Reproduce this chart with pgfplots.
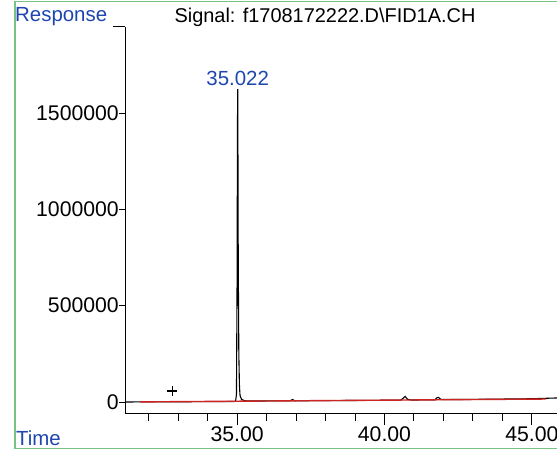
\documentclass[border=0pt]{standalone}
\usepackage{pgfplots}
\pgfplotsset{compat=1.18}
\usepackage{fontspec}
\setmainfont{Liberation Sans}
\definecolor{lblblue}{RGB}{30,70,175}
\definecolor{frgreen}{RGB}{120,195,130}
\definecolor{basered}{RGB}{205,35,35}
\pgfplotsset{
  chromaxis/.style={
    at={(125bp,-413bp)}, anchor=south west,
    scale only axis, width=432bp, height=386bp,
    xmin=31.20, xmax=45.85,
    ymin=-57100, ymax=1946450,
    axis line style={-, black, line width=1bp},
    tick align=outside,
    tick style={black, line width=1bp},
    every tick label/.append style={font=\fontsize{21.3}{24}\selectfont},
    scaled y ticks=false, scaled x ticks=false,
    clip=false,
  }
}
\begin{document}
\begin{tikzpicture}
\fontsize{20.5}{24}\selectfont
\useasboundingbox (0,0) rectangle (557bp,-450bp);
\draw[frgreen, line width=1.5bp] (15bp,-448.5bp) -- (15bp,-1.5bp) -- (557bp,-1.5bp);
\draw[frgreen, line width=1.5bp] (15bp,-448.5bp) -- (557bp,-448.5bp);
\node[lblblue, anchor=west, inner sep=0pt] at (15bp,-17bp) {Response};
\node[anchor=center, inner sep=0pt] at (325bp,-17bp) {\fontsize{20}{24}\selectfont Signal: f1708172222.D\textbackslash FID1A.CH};
\node[lblblue, anchor=west, inner sep=0pt] at (16bp,-438bp) {Time};
% y axis with short ticks
\begin{axis}[chromaxis,
  axis x line=none, axis y line*=left,
  xtick=\empty,
  ytick={0,500000,1000000,1500000},
  yticklabels={0,500000,1000000,1500000},
  major tick length=6bp,
  yticklabel style={inner xsep=0pt},
]
\end{axis}
% x axis and data
\begin{axis}[chromaxis,
  axis x line*=bottom, axis y line*=left,
  xtick={35,40,45}, xticklabels={35.00,40.00,45.00},
  minor xtick={32,33,34,36,37,38,39,41,42,43,44},
  ytick={1946450}, yticklabels={},
  major tick length=12bp, minor tick length=8bp,
  xticklabel style={yshift=0.5bp, inner ysep=2bp},
]
\addplot[black, line width=1.1bp] coordinates {
(31.20,0) (32.0,800) (33.0,1200) (34.0,2000) (34.90,2500) (34.95,3500) (34.98,40000)
(35.00,600000) (35.015,1450000) (35.022,1624600) (35.03,1300000) (35.04,750000) (35.05,500000)
(35.06,250000) (35.08,90000) (35.10,35000) (35.15,14000) (35.25,7000) (35.40,5000)
(36.0,5500) (36.80,6000) (36.88,13000) (36.96,6500) (37.5,6800) (38.5,7500) (39.5,8500)
(40.55,9500) (40.65,22000) (40.70,29000) (40.78,14000) (40.9,10500) (41.70,11000) (41.78,22000)
(41.83,24000) (41.92,13000) (42.5,13000) (43.5,14500) (44.5,16000) (45.0,17000) (45.85,21000)
};
\addplot[basered, line width=1.4bp] coordinates {(31.72,500) (45.48,15500)};
\addplot[black, only marks, mark=+, mark size=5bp, mark options={line width=1.1bp}] coordinates {(32.80,57000)};
\node[lblblue, anchor=base, inner sep=0pt] at (axis cs:35.022,1624600) [yshift=4bp] {35.022};
\end{axis}
\end{tikzpicture}
\end{document}
